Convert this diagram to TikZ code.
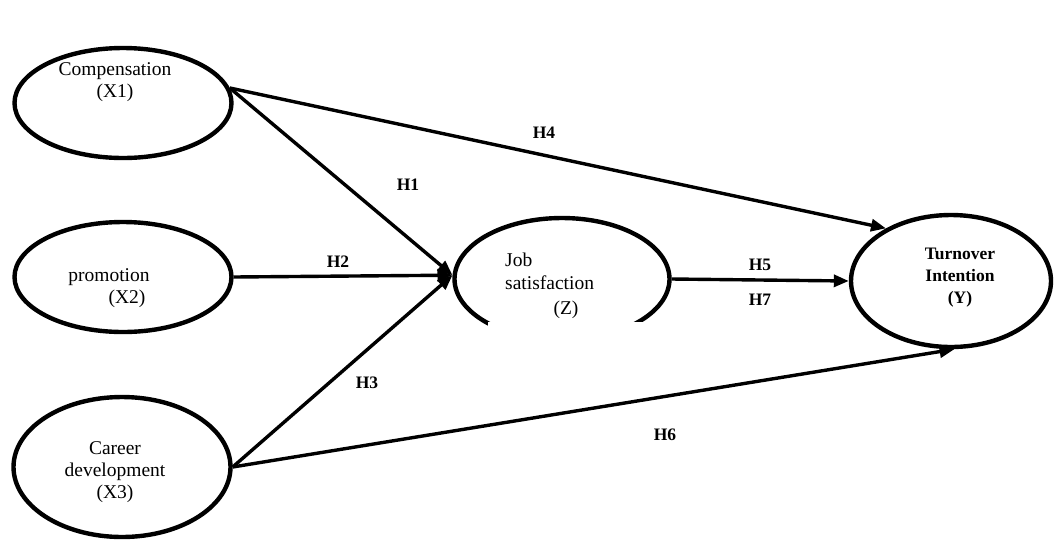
\documentclass[tikz,border=0pt]{standalone}
\usepackage{fontspec}
\setmainfont{Liberation Serif}
\usetikzlibrary{shapes.geometric,arrows.meta}
\begin{document}
\begin{tikzpicture}[x=1pt,y=-1pt,
  var/.style={draw=black,line width=4.4pt,ellipse,inner sep=0pt},
  txt/.style={inner sep=0pt,font=\fontsize{19.5}{22}\selectfont,align=center},
  btxt/.style={inner sep=0pt,font=\bfseries\fontsize{17.5}{22}\selectfont,align=center},
  lab/.style={inner sep=0pt,font=\bfseries\fontsize{17.5}{18}\selectfont},
  path/.style={line width=3.4pt,-{Triangle[length=15pt,width=12pt]}}]
\useasboundingbox (0,0) rectangle (1055,542);
% ellipses
\node[var,minimum width=217pt,minimum height=110pt] (comp) at (123,103) {};
\node[var,minimum width=217pt,minimum height=110pt] (prom) at (123,277) {};
\node[var,minimum width=217pt,minimum height=140pt] (car) at (122,467) {};
\node[var,minimum width=215pt,minimum height=122pt] (job) at (562,279) {};
\node[var,minimum width=200pt,minimum height=132pt] (turn) at (951,281) {};
% gap in job satisfaction ellipse
\fill[white] (488,322) rectangle (645,345);
% texts
\node[txt] (tcomp) at (115,82) {Compensation\\(X1)};
\node[txt,anchor=base] (tprom) at (109,281) {promotion};
\node[txt,anchor=base] (tx2) at (127,303) {(X2)};
\node[txt] (tcar) at (115,472) {Career\\development\\(X3)};
\node[txt,anchor=base west] (tjob) at (505,266) {Job};
\node[txt,anchor=base west] (tsat) at (505,289) {satisfaction};
\node[txt,anchor=base] (tz) at (566,314) {(Z)};
\node[btxt] (tturn) at (960,278) {Turnover\\Intention\\(Y)};
% connectors
\draw[path] (comp.8) -- (job.178);
\draw[path] (prom.east) -- (job.178);
\draw[path] (car.east) -- (job.178);
\draw[path] (comp.8) -- (turn.141);
\draw[path] (job.east) -- (turn.west);
\draw[path] (car.east) -- (turn.-87);
% labels
\node[lab] (h1) at (408,185) {H1};
\node[lab] (h2) at (338,262) {H2};
\node[lab] (h3) at (367,383) {H3};
\node[lab] (h4) at (544,133) {H4};
\node[lab] (h5) at (760,265) {H5};
\node[lab] (h7) at (760,300) {H7};
\node[lab] (h6) at (665,435) {H6};
\end{tikzpicture}
\end{document}
